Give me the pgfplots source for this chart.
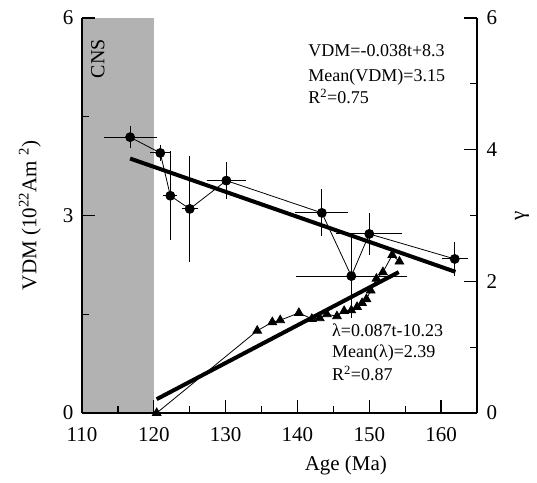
\documentclass[border=0pt]{standalone}
\usepackage{fontspec}
\setmainfont{Liberation Serif}
\usepackage{pgfplots}
\pgfplotsset{compat=1.18}
\pgfplotstableread{
x y ex ey
116.7 4.19 3.0 0.09
120.9 3.95 0.7 0.05
122.3 3.30 0.3 0.60
125.0 3.10 0.4 0.73
130.1 3.53 2.0 0.20
143.4 3.04 3.0 0.28
147.5 2.08 7.0 0.56
150.0 2.72 3.9 0.24
161.9 2.34 1.1 0.18
}\vdm
\pgfplotstableread{
x y
120.4 0.00
134.4 1.25
136.5 1.38
137.6 1.41
140.2 1.52
142.0 1.43
143.1 1.44
144.1 1.50
145.5 1.47
146.5 1.55
147.5 1.56
148.3 1.61
149.0 1.67
149.6 1.73
150.2 1.86
151.0 2.04
151.9 2.14
153.2 2.40
154.2 2.30
}\lam
\begin{document}
\begin{tikzpicture}[font=\fontsize{21}{25}\selectfont]
\pgfplotsset{
 base/.style={scale only axis, width=395pt, height=395pt,
  xmin=110, xmax=165, ymin=0, ymax=6,
  tick align=inside, major tick length=13pt, minor tick length=7pt,
  tick style={black, line width=1.2pt},
  axis line style={-, line width=2pt},
  /pgf/number format/assume math mode=true,
  tick label style={font=\fontsize{21}{25}\selectfont},
  label style={font=\fontsize{21}{25}\selectfont},
 }
}
\begin{axis}[base, name=main, axis x line*=bottom, axis y line*=left, axis on top,
  xtick={110,120,...,160}, minor xtick={115,125,...,165},
  ytick={0,3,6}, minor ytick={1.5,4.5},
  xticklabel style={yshift=-11pt},
  yticklabel style={xshift=-5pt},
  xlabel={Age (Ma)}, ylabel={VDM (10\textsuperscript{22}Am \textsuperscript{2})},
  xlabel style={at={(axis description cs:0.668,-0.134)}, anchor=center},
  ylabel style={at={(axis description cs:-0.132,0.5)}, anchor=center},
]
\addplot[fill=black!30, draw=none] coordinates {(110,6) (120,6)} \closedcycle;
\addplot[black, line width=0.8pt, mark=*, mark size=4.5pt,
  error bars/.cd, x dir=both, x explicit, y dir=both, y explicit,
  error bar style={line width=1pt},
  error mark options={black, line width=1pt, mark size=5pt}]
  table[x=x, y=y, x error=ex, y error=ey] {\vdm};
\addplot[black, line width=4pt] coordinates {(116.7,3.865) (162,2.144)};
\addplot[black, line width=0.8pt, mark=triangle*, mark size=5pt] table[x=x,y=y] {\lam};
\addplot[black, line width=4pt] coordinates {(120.4,0.21) (154.1,2.14)};
\node[rotate=90, anchor=center, font=\fontsize{20}{24}\selectfont] at (axis cs:112.2,5.38) {CNS};
\node[anchor=base west, font=\fontsize{18}{22}\selectfont, inner sep=0pt] at (axis cs:141.5,5.41) {VDM=-0.038t+8.3};
\node[anchor=base west, font=\fontsize{18}{22}\selectfont, inner sep=0pt] at (axis cs:141.5,5.03) {Mean(VDM)=3.15};
\node[anchor=base west, font=\fontsize{18}{22}\selectfont, inner sep=0pt] at (axis cs:141.5,4.70) {R\textsuperscript{2}=0.75};
\node[anchor=base west, font=\fontsize{18}{22}\selectfont, inner sep=0pt] at (axis cs:144.8,1.155) {λ=0.087t-10.23};
\node[anchor=base west, font=\fontsize{18}{22}\selectfont, inner sep=0pt] at (axis cs:144.8,0.85) {Mean(λ)=2.39};
\node[anchor=base west, font=\fontsize{18}{22}\selectfont, inner sep=0pt] at (axis cs:144.8,0.49) {R\textsuperscript{2}=0.87};
\end{axis}
\begin{axis}[base, at={(main.south west)}, anchor=south west,
  axis y line*=right, axis x line=none,
  ytick={0,2,4,6}, minor ytick={1,3,5},
  yticklabel style={xshift=6pt},
  ylabel={γ},
  ylabel style={at={(axis description cs:1.114,0.5)}, anchor=center},
]
\addplot[draw=none] coordinates {(110,0)};
\end{axis}
\pgfresetboundingbox
\path[use as bounding box] ([xshift=-82pt,yshift=-70pt]main.south west) rectangle ([xshift=60pt,yshift=18pt]main.north east);
\end{tikzpicture}
\end{document}
